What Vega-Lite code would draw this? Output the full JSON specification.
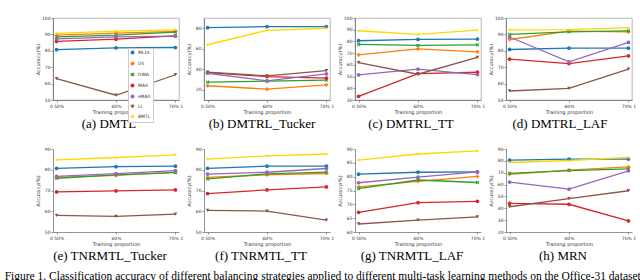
{
  "$schema": "https://vega.github.io/schema/vega-lite/v6.json",
  "padding": {"left": 4, "top": 14, "right": 0, "bottom": 0},
  "background": "white",
  "data": {"values": [
    {"p":"a","s":"MLDL","x":"50%","y":80.7},{"p":"a","s":"MLDL","x":"60%","y":81.8},{"p":"a","s":"MLDL","x":"70%","y":82.0},
    {"p":"a","s":"DS","x":"50%","y":89.5},{"p":"a","s":"DS","x":"60%","y":90.8},{"p":"a","s":"DS","x":"70%","y":91.8},
    {"p":"a","s":"DWA","x":"50%","y":88.5},{"p":"a","s":"DWA","x":"60%","y":89.5},{"p":"a","s":"DWA","x":"70%","y":91.4},
    {"p":"a","s":"MAX","x":"50%","y":85.7},{"p":"a","s":"MAX","x":"60%","y":87.1},{"p":"a","s":"MAX","x":"70%","y":89.1},
    {"p":"a","s":"sMAX","x":"50%","y":87.3},{"p":"a","s":"sMAX","x":"60%","y":88.5},{"p":"a","s":"sMAX","x":"70%","y":88.9},
    {"p":"a","s":"LL","x":"50%","y":63.1},{"p":"a","s":"LL","x":"60%","y":52.9},{"p":"a","s":"LL","x":"70%","y":65.4},
    {"p":"a","s":"BMTL","x":"50%","y":90.6},{"p":"a","s":"BMTL","x":"60%","y":92.0},{"p":"a","s":"BMTL","x":"70%","y":92.8},

    {"p":"b","s":"MLDL","x":"50%","y":80.6},{"p":"b","s":"MLDL","x":"60%","y":81.6},{"p":"b","s":"MLDL","x":"70%","y":81.6},
    {"p":"b","s":"DS","x":"50%","y":23.9},{"p":"b","s":"DS","x":"60%","y":20.6},{"p":"b","s":"DS","x":"70%","y":24.8},
    {"p":"b","s":"DWA","x":"50%","y":27.4},{"p":"b","s":"DWA","x":"60%","y":28.4},{"p":"b","s":"DWA","x":"70%","y":29.4},
    {"p":"b","s":"MAX","x":"50%","y":36.8},{"p":"b","s":"MAX","x":"60%","y":32.9},{"p":"b","s":"MAX","x":"70%","y":31.3},
    {"p":"b","s":"sMAX","x":"50%","y":36.1},{"p":"b","s":"sMAX","x":"60%","y":28.7},{"p":"b","s":"sMAX","x":"70%","y":35.5},
    {"p":"b","s":"LL","x":"50%","y":37.1},{"p":"b","s":"LL","x":"60%","y":33.5},{"p":"b","s":"LL","x":"70%","y":38.7},
    {"p":"b","s":"BMTL","x":"50%","y":63.9},{"p":"b","s":"BMTL","x":"60%","y":78.0},{"p":"b","s":"BMTL","x":"70%","y":80.0},

    {"p":"c","s":"MLDL","x":"50%","y":80.6},{"p":"c","s":"MLDL","x":"60%","y":81.7},{"p":"c","s":"MLDL","x":"70%","y":82.0},
    {"p":"c","s":"DS","x":"50%","y":68.6},{"p":"c","s":"DS","x":"60%","y":73.7},{"p":"c","s":"DS","x":"70%","y":71.1},
    {"p":"c","s":"DWA","x":"50%","y":77.4},{"p":"c","s":"DWA","x":"60%","y":76.6},{"p":"c","s":"DWA","x":"70%","y":77.1},
    {"p":"c","s":"MAX","x":"50%","y":33.1},{"p":"c","s":"MAX","x":"60%","y":52.6},{"p":"c","s":"MAX","x":"70%","y":53.7},
    {"p":"c","s":"sMAX","x":"50%","y":51.4},{"p":"c","s":"sMAX","x":"60%","y":56.3},{"p":"c","s":"sMAX","x":"70%","y":51.7},
    {"p":"c","s":"LL","x":"50%","y":62.0},{"p":"c","s":"LL","x":"60%","y":52.0},{"p":"c","s":"LL","x":"70%","y":66.3},
    {"p":"c","s":"BMTL","x":"50%","y":89.1},{"p":"c","s":"BMTL","x":"60%","y":86.0},{"p":"c","s":"BMTL","x":"70%","y":89.7},

    {"p":"d","s":"MLDL","x":"50%","y":80.8},{"p":"d","s":"MLDL","x":"60%","y":81.6},{"p":"d","s":"MLDL","x":"70%","y":81.6},
    {"p":"d","s":"DS","x":"50%","y":86.9},{"p":"d","s":"DS","x":"60%","y":92.0},{"p":"d","s":"DS","x":"70%","y":91.6},
    {"p":"d","s":"DWA","x":"50%","y":90.0},{"p":"d","s":"DWA","x":"60%","y":91.6},{"p":"d","s":"DWA","x":"70%","y":92.2},
    {"p":"d","s":"MAX","x":"50%","y":74.9},{"p":"d","s":"MAX","x":"60%","y":72.2},{"p":"d","s":"MAX","x":"70%","y":76.9},
    {"p":"d","s":"sMAX","x":"50%","y":88.4},{"p":"d","s":"sMAX","x":"60%","y":73.3},{"p":"d","s":"sMAX","x":"70%","y":85.1},
    {"p":"d","s":"LL","x":"50%","y":55.5},{"p":"d","s":"LL","x":"60%","y":57.1},{"p":"d","s":"LL","x":"70%","y":68.8},
    {"p":"d","s":"BMTL","x":"50%","y":92.7},{"p":"d","s":"BMTL","x":"60%","y":92.9},{"p":"d","s":"BMTL","x":"70%","y":94.1},

    {"p":"e","s":"MLDL","x":"50%","y":80.7},{"p":"e","s":"MLDL","x":"60%","y":81.5},{"p":"e","s":"MLDL","x":"70%","y":81.7},
    {"p":"e","s":"DS","x":"50%","y":76.3},{"p":"e","s":"DS","x":"60%","y":77.3},{"p":"e","s":"DS","x":"70%","y":78.9},
    {"p":"e","s":"DWA","x":"50%","y":75.9},{"p":"e","s":"DWA","x":"60%","y":77.5},{"p":"e","s":"DWA","x":"70%","y":78.6},
    {"p":"e","s":"MAX","x":"50%","y":69.3},{"p":"e","s":"MAX","x":"60%","y":69.8},{"p":"e","s":"MAX","x":"70%","y":70.3},
    {"p":"e","s":"sMAX","x":"50%","y":76.8},{"p":"e","s":"sMAX","x":"60%","y":78.1},{"p":"e","s":"sMAX","x":"70%","y":79.6},
    {"p":"e","s":"LL","x":"50%","y":58.0},{"p":"e","s":"LL","x":"60%","y":57.5},{"p":"e","s":"LL","x":"70%","y":58.6},
    {"p":"e","s":"BMTL","x":"50%","y":84.8},{"p":"e","s":"BMTL","x":"60%","y":85.9},{"p":"e","s":"BMTL","x":"70%","y":87.2},

    {"p":"f","s":"MLDL","x":"50%","y":80.7},{"p":"f","s":"MLDL","x":"60%","y":81.7},{"p":"f","s":"MLDL","x":"70%","y":81.7},
    {"p":"f","s":"DS","x":"50%","y":76.3},{"p":"f","s":"DS","x":"60%","y":77.6},{"p":"f","s":"DS","x":"70%","y":78.2},
    {"p":"f","s":"DWA","x":"50%","y":75.6},{"p":"f","s":"DWA","x":"60%","y":78.0},{"p":"f","s":"DWA","x":"70%","y":78.9},
    {"p":"f","s":"MAX","x":"50%","y":68.5},{"p":"f","s":"MAX","x":"60%","y":70.3},{"p":"f","s":"MAX","x":"70%","y":71.7},
    {"p":"f","s":"sMAX","x":"50%","y":77.9},{"p":"f","s":"sMAX","x":"60%","y":78.8},{"p":"f","s":"sMAX","x":"70%","y":80.6},
    {"p":"f","s":"LL","x":"50%","y":60.4},{"p":"f","s":"LL","x":"60%","y":60.1},{"p":"f","s":"LL","x":"70%","y":55.7},
    {"p":"f","s":"BMTL","x":"50%","y":85.1},{"p":"f","s":"BMTL","x":"60%","y":86.7},{"p":"f","s":"BMTL","x":"70%","y":87.6},

    {"p":"g","s":"MLDL","x":"50%","y":80.9},{"p":"g","s":"MLDL","x":"60%","y":81.6},{"p":"g","s":"MLDL","x":"70%","y":81.7},
    {"p":"g","s":"DS","x":"50%","y":76.3},{"p":"g","s":"DS","x":"60%","y":78.3},{"p":"g","s":"DS","x":"70%","y":80.1},
    {"p":"g","s":"DWA","x":"50%","y":75.7},{"p":"g","s":"DWA","x":"60%","y":78.8},{"p":"g","s":"DWA","x":"70%","y":77.9},
    {"p":"g","s":"MAX","x":"50%","y":67.1},{"p":"g","s":"MAX","x":"60%","y":70.6},{"p":"g","s":"MAX","x":"70%","y":71.1},
    {"p":"g","s":"sMAX","x":"50%","y":77.8},{"p":"g","s":"sMAX","x":"60%","y":79.8},{"p":"g","s":"sMAX","x":"70%","y":81.7},
    {"p":"g","s":"LL","x":"50%","y":62.9},{"p":"g","s":"LL","x":"60%","y":64.3},{"p":"g","s":"LL","x":"70%","y":65.5},
    {"p":"g","s":"BMTL","x":"50%","y":86.0},{"p":"g","s":"BMTL","x":"60%","y":88.2},{"p":"g","s":"BMTL","x":"70%","y":89.3},

    {"p":"h","s":"MLDL","x":"50%","y":80.6},{"p":"h","s":"MLDL","x":"60%","y":81.5},{"p":"h","s":"MLDL","x":"70%","y":81.5},
    {"p":"h","s":"DS","x":"50%","y":68.6},{"p":"h","s":"DS","x":"60%","y":72.1},{"p":"h","s":"DS","x":"70%","y":74.9},
    {"p":"h","s":"DWA","x":"50%","y":69.5},{"p":"h","s":"DWA","x":"60%","y":71.8},{"p":"h","s":"DWA","x":"70%","y":73.2},
    {"p":"h","s":"MAX","x":"50%","y":44.2},{"p":"h","s":"MAX","x":"60%","y":43.4},{"p":"h","s":"MAX","x":"70%","y":29.3},
    {"p":"h","s":"sMAX","x":"50%","y":62.1},{"p":"h","s":"sMAX","x":"60%","y":56.1},{"p":"h","s":"sMAX","x":"70%","y":71.6},
    {"p":"h","s":"LL","x":"50%","y":41.3},{"p":"h","s":"LL","x":"60%","y":48.2},{"p":"h","s":"LL","x":"70%","y":54.8},
    {"p":"h","s":"BMTL","x":"50%","y":78.6},{"p":"h","s":"BMTL","x":"60%","y":80.3},{"p":"h","s":"BMTL","x":"70%","y":82.9}
  ]},
  "title": {"text": "Figure 1. Classification accuracy of different balancing strategies applied to different multi-task learning methods on the Office-31 dataset", "orient": "bottom", "anchor": "start", "fontSize": 11.5, "offset": 8, "dx": -30},
  "columns": 4,
  "spacing": {"row": 49, "column": 25},
  "bounds": "flush",
  "concat": [
      {"width": 126, "height": 82, "view": {"stroke": "#999", "strokeWidth": 0.7},
       "title": {"text": "(a) DMTL", "orient": "bottom", "offset": 3, "dx": -7},
       "transform": [{"filter": "datum.p=='a'"}],
       "encoding": {
         "x": {"field": "x", "type": "ordinal", "scale": {"padding": 0.06}, "axis": {"title": "Training proportion", "labelAngle": 0, "labelExpr": "datum.value=='50%'?'0 50%':datum.value=='70%'?'70% 1':datum.value"}},
         "y": {"field": "y", "type": "quantitative", "scale": {"domain": [50, 100], "nice": false, "zero": false}, "axis": {"title": "Accuracy(%)", "values": [50, 60, 70, 80, 90, 100], "minExtent": 11, "maxExtent": 11}},
         "color": {"field": "s", "type": "nominal", "sort": null, "scale": {"domain": ["MLDL", "DS", "DWA", "MAX", "sMAX", "LL", "BMTL"], "range": ["#1f77b4", "#ff7f0e", "#2ca02c", "#d62728", "#9467bd", "#8c564b", "#ffd700"]}, "title": null}
       },
       "layer": [
         {"mark": {"type": "line", "strokeWidth": 1.3}},
         {"mark": {"type": "point", "filled": true, "size": 14, "opacity": 1}, "encoding": {"shape": {"field": "s", "type": "nominal", "sort": null, "title": null, "scale": {"domain": ["MLDL", "DS", "DWA", "MAX", "sMAX", "LL", "BMTL"], "range": ["circle", "cross", "M-1,-0.6L-0.6,-1L0,-0.4L0.6,-1L1,-0.6L0.4,0L1,0.6L0.6,1L0,0.4L-0.6,1L-1,0.6L-0.4,0Z", "circle", "circle", "triangle-down", "M0,-1L0.235,-0.324L0.951,-0.309L0.38,0.124L0.588,0.809L0,0.4L-0.588,0.809L-0.38,0.124L-0.951,-0.309L-0.235,-0.324Z"]}}}}
       ]},
      {"width": 126, "height": 82, "view": {"stroke": "#999", "strokeWidth": 0.7},
       "title": {"text": "(b) DMTRL_Tucker", "orient": "bottom", "offset": 3, "dx": -5},
       "transform": [{"filter": "datum.p=='b'"}],
       "encoding": {
         "x": {"field": "x", "type": "ordinal", "scale": {"padding": 0.06}, "axis": {"title": "Training proportion", "labelAngle": 0, "labelExpr": "datum.value=='50%'?'0 50%':datum.value=='70%'?'70% 1':datum.value"}},
         "y": {"field": "y", "type": "quantitative", "scale": {"domain": [10, 90], "nice": false, "zero": false}, "axis": {"title": "Accuracy(%)", "values": [20, 40, 60, 80], "minExtent": 11, "maxExtent": 11}},
         "color": {"field": "s", "type": "nominal", "sort": null, "title": null}
       },
       "layer": [
         {"mark": {"type": "line", "strokeWidth": 1.3}},
         {"mark": {"type": "point", "filled": true, "size": 14, "opacity": 1}, "encoding": {"shape": {"field": "s", "type": "nominal", "sort": null, "title": null}}}
       ]},
      {"width": 126, "height": 82, "view": {"stroke": "#999", "strokeWidth": 0.7},
       "title": {"text": "(c) DMTRL_TT", "orient": "bottom", "offset": 3, "dx": -7},
       "transform": [{"filter": "datum.p=='c'"}],
       "encoding": {
         "x": {"field": "x", "type": "ordinal", "scale": {"padding": 0.06}, "axis": {"title": "Training proportion", "labelAngle": 0, "labelExpr": "datum.value=='50%'?'0 50%':datum.value=='70%'?'70% 1':datum.value"}},
         "y": {"field": "y", "type": "quantitative", "scale": {"domain": [30, 100], "nice": false, "zero": false}, "axis": {"title": "Accuracy(%)", "values": [30, 40, 50, 60, 70, 80, 90, 100], "minExtent": 11, "maxExtent": 11}},
         "color": {"field": "s", "type": "nominal", "sort": null, "title": null}
       },
       "layer": [
         {"mark": {"type": "line", "strokeWidth": 1.3}},
         {"mark": {"type": "point", "filled": true, "size": 14, "opacity": 1}, "encoding": {"shape": {"field": "s", "type": "nominal", "sort": null, "title": null}}}
       ]},
      {"width": 126, "height": 82, "view": {"stroke": "#999", "strokeWidth": 0.7},
       "title": {"text": "(d) DMTRL_LAF", "orient": "bottom", "offset": 3, "dx": -9},
       "transform": [{"filter": "datum.p=='d'"}],
       "encoding": {
         "x": {"field": "x", "type": "ordinal", "scale": {"padding": 0.06}, "axis": {"title": "Training proportion", "labelAngle": 0, "labelExpr": "datum.value=='50%'?'0 50%':datum.value=='70%'?'70% 1':datum.value"}},
         "y": {"field": "y", "type": "quantitative", "scale": {"domain": [50, 100], "nice": false, "zero": false}, "axis": {"title": "Accuracy(%)", "values": [50, 60, 70, 80, 90, 100], "minExtent": 11, "maxExtent": 11}},
         "color": {"field": "s", "type": "nominal", "sort": null, "title": null}
       },
       "layer": [
         {"mark": {"type": "line", "strokeWidth": 1.3}},
         {"mark": {"type": "point", "filled": true, "size": 14, "opacity": 1}, "encoding": {"shape": {"field": "s", "type": "nominal", "sort": null, "title": null}}}
       ]},
      {"width": 126, "height": 83,
       "title": {"text": "(e) TNRMTL_Tucker", "orient": "bottom", "offset": 3, "dx": -6},
       "transform": [{"filter": "datum.p=='e'"}],
       "encoding": {
         "x": {"field": "x", "type": "ordinal", "scale": {"padding": 0.06}, "axis": {"title": "Training proportion", "labelAngle": 0, "labelExpr": "datum.value=='50%'?'0 50%':datum.value=='70%'?'70% 1':datum.value"}},
         "y": {"field": "y", "type": "quantitative", "scale": {"domain": [50, 90], "nice": false, "zero": false}, "axis": {"title": "Accuracy(%)", "values": [50, 60, 70, 80, 90], "minExtent": 11, "maxExtent": 11}},
         "color": {"field": "s", "type": "nominal", "sort": null, "title": null}
       },
       "layer": [
         {"mark": {"type": "line", "strokeWidth": 1.3}},
         {"mark": {"type": "point", "filled": true, "size": 14, "opacity": 1}, "encoding": {"shape": {"field": "s", "type": "nominal", "sort": null, "title": null}}}
       ]},
      {"width": 126, "height": 83,
       "title": {"text": "(f) TNRMTL_TT", "orient": "bottom", "offset": 3, "dx": -6},
       "transform": [{"filter": "datum.p=='f'"}],
       "encoding": {
         "x": {"field": "x", "type": "ordinal", "scale": {"padding": 0.06}, "axis": {"title": "Training proportion", "labelAngle": 0, "labelExpr": "datum.value=='50%'?'0 50%':datum.value=='70%'?'70% 1':datum.value"}},
         "y": {"field": "y", "type": "quantitative", "scale": {"domain": [50, 90], "nice": false, "zero": false}, "axis": {"title": "Accuracy(%)", "values": [50, 60, 70, 80, 90], "minExtent": 11, "maxExtent": 11}},
         "color": {"field": "s", "type": "nominal", "sort": null, "title": null}
       },
       "layer": [
         {"mark": {"type": "line", "strokeWidth": 1.3}},
         {"mark": {"type": "point", "filled": true, "size": 14, "opacity": 1}, "encoding": {"shape": {"field": "s", "type": "nominal", "sort": null, "title": null}}}
       ]},
      {"width": 126, "height": 83,
       "title": {"text": "(g) TNRMTL_LAF", "orient": "bottom", "offset": 3, "dx": -6},
       "transform": [{"filter": "datum.p=='g'"}],
       "encoding": {
         "x": {"field": "x", "type": "ordinal", "scale": {"padding": 0.06}, "axis": {"title": "Training proportion", "labelAngle": 0, "labelExpr": "datum.value=='50%'?'0 50%':datum.value=='70%'?'70% 1':datum.value"}},
         "y": {"field": "y", "type": "quantitative", "scale": {"domain": [60, 90], "nice": false, "zero": false}, "axis": {"title": "Accuracy(%)", "values": [60, 65, 70, 75, 80, 85, 90], "minExtent": 11, "maxExtent": 11}},
         "color": {"field": "s", "type": "nominal", "sort": null, "title": null}
       },
       "layer": [
         {"mark": {"type": "line", "strokeWidth": 1.3}},
         {"mark": {"type": "point", "filled": true, "size": 14, "opacity": 1}, "encoding": {"shape": {"field": "s", "type": "nominal", "sort": null, "title": null}}}
       ]},
      {"width": 126, "height": 83,
       "title": {"text": "(h) MRN", "orient": "bottom", "offset": 3, "dx": -6},
       "transform": [{"filter": "datum.p=='h'"}],
       "encoding": {
         "x": {"field": "x", "type": "ordinal", "scale": {"padding": 0.06}, "axis": {"title": "Training proportion", "labelAngle": 0, "labelExpr": "datum.value=='50%'?'0 50%':datum.value=='70%'?'70% 1':datum.value"}},
         "y": {"field": "y", "type": "quantitative", "scale": {"domain": [20, 90], "nice": false, "zero": false}, "axis": {"title": "Accuracy(%)", "values": [20, 30, 40, 50, 60, 70, 80, 90], "minExtent": 11, "maxExtent": 11}},
         "color": {"field": "s", "type": "nominal", "sort": null, "title": null}
       },
       "layer": [
         {"mark": {"type": "line", "strokeWidth": 1.3}},
         {"mark": {"type": "point", "filled": true, "size": 14, "opacity": 1}, "encoding": {"shape": {"field": "s", "type": "nominal", "sort": null, "title": null}}}
       ]}
  ],
  "config": {
    "view": {"stroke": null},
    "axis": {"grid": false, "labelFont": "DejaVu Sans", "labelFontSize": 4.5, "labelColor": "#333", "titleFont": "DejaVu Sans", "titleFontSize": 5, "titleFontWeight": "normal", "titleColor": "#333", "domainColor": "#666", "tickColor": "#666", "tickSize": 2, "domainWidth": 0.7, "tickWidth": 0.7, "labelPadding": 1, "titlePadding": 2},
    "title": {"font": "Liberation Serif", "fontSize": 13, "fontWeight": "normal", "color": "#000"},
    "legend": {"orient": "none", "legendX": 75, "legendY": 30, "fillColor": "white", "strokeColor": "#ccc", "padding": 2, "labelFont": "DejaVu Sans", "labelFontSize": 4.5, "labelColor": "#333", "symbolSize": 10, "rowPadding": 2, "symbolStrokeWidth": 1, "labelOffset": 3}
  }
}
